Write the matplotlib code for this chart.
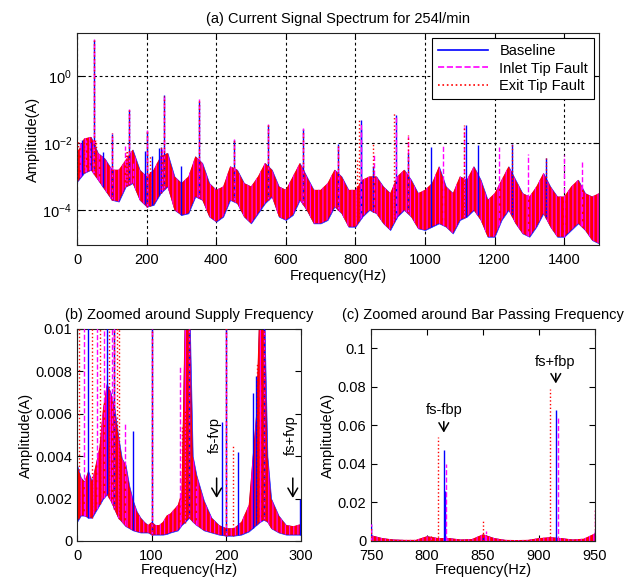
import numpy as np
import matplotlib.pyplot as plt
from matplotlib.lines import Line2D
from matplotlib.ticker import FixedLocator, NullLocator, LogFormatterSciNotation

plt.rcParams['font.family'] = ['Liberation Sans', 'DejaVu Sans']
plt.rcParams['mathtext.fontset'] = 'custom'
plt.rcParams['mathtext.rm'] = 'Liberation Sans'
plt.rcParams['mathtext.it'] = 'Liberation Sans:italic'
plt.rcParams['font.size'] = 10
plt.rcParams['hatch.linewidth'] = 0.9

# ---- spectral peaks per series (Hz, A) ----
base_pk_f = [15, 40, 50, 75, 100, 150, 194, 200, 215, 236, 240, 250, 299, 350, 450, 550,
             650, 750, 815.5, 816.5, 850, 915.5, 950, 1016, 1117, 1151, 1251, 1349]
base_pk_a = [0.012, 0.011, 12.0, 0.0052, 0.019, 0.095, 0.0056, 0.022, 0.0042, 0.007, 0.0078,
             0.26, 0.002, 0.17, 0.012, 0.035, 0.026, 0.009, 0.047, 0.026, 0.002, 0.068, 0.005,
             0.0076, 0.034, 0.0085, 0.0095, 0.0036]

inlet_pk_f = [10, 27, 36, 47, 50, 64, 100, 138, 150, 160, 200, 245, 250, 350, 450, 550,
              650, 750, 817, 853, 917.3, 950, 1053, 1111, 1212, 1297, 1400, 1450]
inlet_pk_a = [0.012, 0.012, 0.011, 0.012, 13.0, 0.0055, 0.02, 0.0082, 0.1, 0.0026, 0.024,
              0.0075, 0.24, 0.2, 0.013, 0.037, 0.027, 0.009, 0.040, 0.005, 0.064, 0.016,
              0.0085, 0.03, 0.0076, 0.0048, 0.0043, 0.0027]

exit_pk_f = [3, 20, 31, 43, 50, 53, 56, 100, 141, 144, 150, 200, 209, 241, 250, 350, 450,
             550, 650, 750, 804, 810, 850, 910, 950, 1111, 1251, 1349]
exit_pk_a = [0.012, 0.012, 0.012, 0.012, 13.5, 0.012, 0.012, 0.02, 0.0054, 0.0062, 0.1,
             0.023, 0.0045, 0.0084, 0.25, 0.19, 0.012, 0.037, 0.025, 0.008, 0.003, 0.054,
             0.0104, 0.079, 0.0173, 0.034, 0.0095, 0.0036]

# ---- dense noise band of the full spectrum (log10 A) ----
band_f = list(range(0, 1501, 20))
band_hi_log = [-2.32, -1.87, -1.82, -2.3, -2.47, -2.8, -2.8, -2.5, -2.2, -2.8, -3.0, -2.8,
               -2.4, -2.3, -3.0, -3.2, -3.0, -2.4, -2.6, -3.2, -3.4, -3.3, -2.7, -2.8, -3.2,
               -3.3, -3.0, -2.6, -2.8, -3.3, -3.4, -3.0, -2.6, -3.0, -3.4, -3.4, -3.2, -2.8,
               -3.0, -3.4, -3.4, -3.1, -3.0, -3.0, -3.3, -3.5, -3.0, -2.8, -3.1, -3.5, -3.4,
               -3.2, -2.7, -3.3, -3.5, -3.0, -3.1, -2.7, -3.1, -3.7, -3.5, -3.1, -2.7, -3.1,
               -3.5, -3.6, -3.3, -2.9, -3.3, -3.6, -3.6, -3.3, -3.1, -3.5, -3.6, -3.5]
band_lo_log = [-3.16, -2.9, -2.8, -3.1, -3.4, -3.7, -3.75, -3.3, -3.2, -3.7, -3.9, -3.85,
               -3.5, -3.3, -4.0, -4.15, -4.1, -3.6, -3.7, -4.2, -4.35, -4.2, -3.7, -3.8, -4.2,
               -4.4, -4.1, -3.8, -3.6, -4.2, -4.3, -4.15, -3.7, -4.0, -4.4, -4.4, -4.3, -3.9,
               -4.1, -4.5, -4.5, -4.2, -4.0, -4.1, -4.4, -4.6, -4.2, -4.0, -4.2, -4.55, -4.6,
               -4.5, -4.4, -4.5, -4.7, -4.3, -4.2, -4.0, -4.3, -4.8, -4.8, -4.3, -4.0, -4.4,
               -4.7, -4.8, -4.5, -4.1, -4.5, -4.8, -4.8, -4.6, -4.4, -4.6, -4.9, -5.0]

# ---- noise band around supply frequency (linear A) ----
b_f = [0, 5, 10, 15, 20, 25, 30, 35, 40, 45, 50, 55, 60, 65, 70, 75, 80, 85, 90, 95, 100,
       105, 110, 115, 120, 125, 130, 135, 140, 145, 150, 155, 160, 170, 180, 190, 200, 210,
       220, 230, 240, 245, 250, 255, 260, 270, 280, 290, 300]
b_lo = [0.0009, 0.0012, 0.0012, 0.0011, 0.0011, 0.0014, 0.0017, 0.0020, 0.0022, 0.0019,
        0.0015, 0.0011, 0.0009, 0.0007, 0.0006, 0.0005, 0.00045, 0.0004, 0.0004, 0.0004,
        0.0003, 0.0003, 0.0003, 0.0003, 0.00033, 0.0004, 0.00045, 0.0005, 0.00075, 0.0009,
        0.0011, 0.0009, 0.00075, 0.0005, 0.0004, 0.0003, 0.00025, 0.00025, 0.0003, 0.00045,
        0.00075, 0.0009, 0.001, 0.0009, 0.0006, 0.0004, 0.0003, 0.0003, 0.0003]
b_hi = [0.0036, 0.003, 0.0028, 0.0033, 0.0028, 0.0036, 0.0044, 0.0063, 0.0074, 0.007,
        0.0063, 0.005, 0.0039, 0.0036, 0.0026, 0.0019, 0.0014, 0.0011, 0.0009, 0.00075,
        0.0009, 0.00075, 0.00075, 0.0009, 0.0012, 0.0013, 0.0015, 0.0017, 0.0023, 0.012,
        0.012, 0.004, 0.0031, 0.0019, 0.0011, 0.00075, 0.0006, 0.0006, 0.0009, 0.0017,
        0.006, 0.012, 0.012, 0.004, 0.002, 0.0012, 0.00075, 0.0007, 0.0008]

# ---- noise floor around bar passing frequency (linear A) ----
c_f = list(range(750, 951, 10))
c_lo = [0.0] * len(c_f)
c_hi = [0.003, 0.0015, 0.0008, 0.0006, 0.0006, 0.0025, 0.0015, 0.0015, 0.0008, 0.001,
        0.0035, 0.0015, 0.0006, 0.0005, 0.0006, 0.0015, 0.002, 0.0015, 0.0008, 0.0012, 0.004]

series = [
    ('Baseline', base_pk_f, base_pk_a, 'blue', '-'),
    ('Inlet Tip Fault', inlet_pk_f, inlet_pk_a, 'magenta', '--'),
    ('Exit Tip Fault', exit_pk_f, exit_pk_a, 'red', ':'),
]


def style_axes(ax):
    ax.tick_params(direction='in', top=True, right=True, length=4, labelsize=10.5)
    ax.tick_params(axis='x', pad=6)
    for s in ax.spines.values():
        s.set_linewidth(0.8)
        s.set_color('#222222')


def draw_band(ax, f, lo, hi):
    ax.fill_between(f, lo, hi, facecolor='blue', edgecolor='#3030ff', linewidth=0.5, zorder=1)
    ax.fill_between(f, lo, hi, facecolor='red', edgecolor='magenta', hatch='||||',
                    linewidth=0, zorder=2)


def draw_peaks(ax, f_lo, f_hi, base_f, base_lo):
    for name, pf, pa, col, ls in series:
        pf = np.array(pf)
        pa = np.array(pa)
        m = (pf >= f_lo) & (pf <= f_hi)
        base = np.interp(pf[m], base_f, base_lo)
        ax.vlines(pf[m], base, pa[m], colors=col, linestyles=ls, linewidth=1.0, zorder=3)


fig = plt.figure(figsize=(6.33, 5.87), dpi=100)
W, H = 633, 587
ax1 = fig.add_axes([77 / W, 1 - 245 / H, 522 / W, 212 / H])
ax2 = fig.add_axes([77 / W, 1 - 541 / H, 224 / W, 212 / H])
ax3 = fig.add_axes([371 / W, 1 - 541 / H, 224 / W, 212 / H])

# (a) full spectrum
ax1.set_yscale('log')
lo_a = 10 ** np.array(band_lo_log)
hi_a = 10 ** np.array(band_hi_log)
draw_band(ax1, band_f, lo_a, hi_a)
draw_peaks(ax1, 0, 1500, band_f, lo_a)
ax1.set_xlim(0, 1500)
ax1.set_ylim(9e-6, 19)
ax1.yaxis.set_major_locator(FixedLocator([1e-4, 1e-2, 1e0]))
ax1.yaxis.set_minor_locator(NullLocator())
ax1.yaxis.set_major_formatter(LogFormatterSciNotation())
ax1.set_xticks(range(0, 1401, 200))
ax1.grid(True, color='black', linestyle=(0, (2.5, 2.5)), linewidth=0.8)
ax1.set_axisbelow(True)
ax1.set_title('(a) Current Signal Spectrum for 254l/min', fontsize=10.5, pad=7)
ax1.set_xlabel('Frequency(Hz)', fontsize=10.5, labelpad=1)
ax1.set_ylabel('Amplitude(A)', fontsize=10.5, labelpad=2)
style_axes(ax1)
handles = [Line2D([], [], color=c, linestyle=ls, linewidth=1.2) for _, _, _, c, ls in series]
leg = ax1.legend(handles, [s[0] for s in series], loc='upper right', fontsize=10.5,
                 fancybox=False, edgecolor='black', framealpha=1, handlelength=3.4,
                 borderaxespad=0.35, labelspacing=0.25, borderpad=0.4)
leg.get_frame().set_linewidth(0.8)

# (b) zoom around supply frequency
draw_band(ax2, b_f, b_lo, b_hi)
draw_peaks(ax2, 0, 300, b_f, b_lo)
ax2.set_xlim(0, 300)
ax2.set_ylim(0, 0.01)
ax2.set_xticks([0, 100, 200, 300])
ax2.set_yticks([0, 0.002, 0.004, 0.006, 0.008, 0.01])
ax2.set_yticklabels(['0', '0.002', '0.004', '0.006', '0.008', '0.01'])
ax2.set_title('(b) Zoomed around Supply Frequency', fontsize=10.5, pad=7)
ax2.set_xlabel('Frequency(Hz)', fontsize=10.5, labelpad=0)
ax2.set_ylabel('Amplitude(A)', fontsize=10.5, labelpad=2)
style_axes(ax2)
arrow = dict(arrowstyle='->,head_width=0.35,head_length=0.6', color='black', lw=1.1)
ax2.annotate('', xy=(187, 0.0019), xytext=(187, 0.0031), arrowprops=arrow, zorder=5)
ax2.text(185, 0.005, 'fs-fvp', rotation=90, ha='center', va='center', fontsize=10.5)
ax2.annotate('', xy=(289, 0.0019), xytext=(289, 0.0031), arrowprops=arrow, zorder=5)
ax2.text(287, 0.005, 'fs+fvp', rotation=90, ha='center', va='center', fontsize=10.5)

# (c) zoom around bar passing frequency
draw_band(ax3, c_f, c_lo, c_hi)
draw_peaks(ax3, 750, 950, c_f, c_lo)
ax3.set_xlim(750, 950)
ax3.set_ylim(0, 0.11)
ax3.set_xticks([750, 800, 850, 900, 950])
ax3.set_yticks([0, 0.02, 0.04, 0.06, 0.08, 0.1])
ax3.set_yticklabels(['0', '0.02', '0.04', '0.06', '0.08', '0.1'])
ax3.set_title('(c) Zoomed around Bar Passing Frequency', fontsize=10.5, pad=7)
ax3.set_xlabel('Frequency(Hz)', fontsize=10.5, labelpad=0)
ax3.set_ylabel('Amplitude(A)', fontsize=10.5, labelpad=2)
style_axes(ax3)
ax3.annotate('', xy=(815, 0.0548), xytext=(815, 0.0634), arrowprops=arrow, zorder=5)
ax3.text(815, 0.068, 'fs-fbp', ha='center', va='center', fontsize=10.5)
ax3.annotate('', xy=(915, 0.0803), xytext=(915, 0.0884), arrowprops=arrow, zorder=5)
ax3.text(914, 0.0928, 'fs+fbp', ha='center', va='center', fontsize=10.5)

fig.savefig('out.png', dpi=100)
